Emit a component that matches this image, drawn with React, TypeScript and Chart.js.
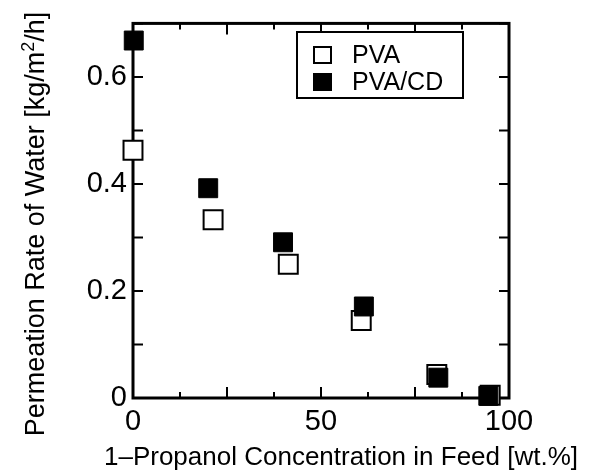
import React, { useEffect, useRef } from "react";
import { Chart, registerables } from "chart.js";

Chart.register(...registerables);

// ---- data ----
const seriesNames = ["PVA", "PVA/CD"];
const pvaX = [0, 21.3, 41.3, 60.7, 80.8, 95];
const pvaY = [0.463, 0.333, 0.25, 0.145, 0.044, 0.005];
const pvaCdX = [0.2, 20, 39.9, 61.4, 81.2, 94.5];
const pvaCdY = [0.668, 0.392, 0.291, 0.171, 0.038, 0.004];
const xTickLabels = [0, 50, 100];
const yTickLabels = [0, 0.2, 0.4, 0.6];
const xTitle = "1\u2013Propanol Concentration in Feed [wt.%]";
const yTitleParts = ["Permeation Rate of Water [kg/m", "2", "/h]"];

const FONT = "'Liberation Sans', Arial, Helvetica, sans-serif";

const framePlugin = {
  id: "frame",
  beforeDatasetsDraw(chart: any) {
    const { ctx, chartArea } = chart;
    const { left, right, top, bottom } = chartArea;
    ctx.save();
    ctx.strokeStyle = "#000";
    ctx.lineWidth = 2;
    const xs = chart.scales.x;
    xs.ticks.forEach((t: any) => {
      const px = xs.getPixelForValue(t.value);
      const major = Math.abs(t.value % 25) < 1e-6;
      const len = major ? 11 : 6;
      ctx.beginPath();
      ctx.moveTo(px, bottom);
      ctx.lineTo(px, bottom - len);
      ctx.moveTo(px, top);
      ctx.lineTo(px, top + len);
      ctx.stroke();
    });
    const ys = chart.scales.y;
    ys.ticks.forEach((t: any) => {
      const py = ys.getPixelForValue(t.value);
      const len = 10;
      ctx.beginPath();
      ctx.moveTo(left, py);
      ctx.lineTo(left + len, py);
      ctx.moveTo(right, py);
      ctx.lineTo(right - len, py);
      ctx.stroke();
    });
    ctx.lineWidth = 3;
    ctx.strokeRect(left, top, right - left, bottom - top);
    ctx.restore();
  },
};

const titlePlugin = {
  id: "titles",
  afterDraw(chart: any) {
    const { ctx } = chart;
    ctx.save();
    ctx.fillStyle = "#000";
    ctx.font = `26px ${FONT}`;
    ctx.textAlign = "center";
    ctx.textBaseline = "alphabetic";
    ctx.fillText(xTitle, 341, 465);

    // y title, rotated, with superscript
    ctx.translate(44, 224);
    ctx.rotate(-Math.PI / 2);
    ctx.textAlign = "left";
    const mainFont = `27px ${FONT}`;
    const supFont = `18px ${FONT}`;
    ctx.font = mainFont;
    const w0 = ctx.measureText(yTitleParts[0]).width;
    const w2 = ctx.measureText(yTitleParts[2]).width;
    ctx.font = supFont;
    const w1 = ctx.measureText(yTitleParts[1]).width;
    const total = w0 + w1 + w2;
    let x = -total / 2;
    ctx.font = mainFont;
    ctx.fillText(yTitleParts[0], x, 0);
    x += w0;
    ctx.font = supFont;
    ctx.fillText(yTitleParts[1], x, -10);
    x += w1;
    ctx.font = mainFont;
    ctx.fillText(yTitleParts[2], x, 0);
    ctx.restore();
  },
};

const legendPlugin = {
  id: "boxLegend",
  afterDatasetsDraw(chart: any) {
    const { ctx } = chart;
    const datasets = chart.data.datasets;
    ctx.save();
    ctx.fillStyle = "#fff";
    ctx.fillRect(297, 32, 166, 66);
    ctx.strokeStyle = "#000";
    ctx.lineWidth = 2;
    ctx.strokeRect(297, 32, 166, 66);
    ctx.font = `25px ${FONT}`;
    ctx.textBaseline = "middle";
    ctx.textAlign = "left";
    datasets.forEach((ds: any, i: number) => {
      const cy = 55 + i * 27;
      ctx.fillStyle = ds.pointBackgroundColor;
      ctx.fillRect(314, cy - 8, 17, 16);
      ctx.strokeStyle = "#000";
      ctx.lineWidth = 2;
      ctx.strokeRect(314, cy - 8, 17, 16);
      ctx.fillStyle = "#000";
      ctx.fillText(ds.label, 352, cy + 1);
    });
    ctx.restore();
  },
};

export default function App() {
  const ref = useRef<HTMLCanvasElement>(null);

  useEffect(() => {
    const canvas = ref.current;
    if (!canvas) return;
    const tickFont = { family: FONT, size: 29 };
    const chart = new Chart(canvas, {
      type: "scatter",
      data: {
        datasets: [
          {
            label: seriesNames[0],
            data: pvaX.map((x, i) => ({ x, y: pvaY[i] })),
            pointStyle: "rect",
            pointRadius: 13.4,
            pointHoverRadius: 13.4,
            pointBackgroundColor: "#fff",
            pointBorderColor: "#000",
            pointBorderWidth: 2,
            order: 1,
            clip: false,
          } as any,
          {
            label: seriesNames[1],
            data: pvaCdX.map((x, i) => ({ x, y: pvaCdY[i] })),
            pointStyle: "rect",
            pointRadius: 13.4,
            pointHoverRadius: 13.4,
            pointBackgroundColor: "#000",
            pointBorderColor: "#000",
            pointBorderWidth: 1,
            order: 0,
            clip: false,
          } as any,
        ],
      },
      options: {
        responsive: false,
        animation: false,
        devicePixelRatio: 1,
        events: [],
        layout: { padding: { top: 17, right: 83, left: 0, bottom: 0 } },
        plugins: {
          legend: { display: false },
          tooltip: { enabled: false },
        },
        scales: {
          x: {
            type: "linear",
            min: 0,
            max: 100,
            grid: { display: false, drawTicks: false },
            border: { display: false },
            ticks: {
              stepSize: 12.5,
              autoSkip: false,
              maxRotation: 0,
              padding: 7,
              color: "#000",
              font: tickFont,
              callback: (v: any) =>
                xTickLabels.some((t) => Math.abs(t - Number(v)) < 1e-6) ? String(Math.round(Number(v))) : "",
            },
            afterFit: (s: any) => {
              s.height = 77;
            },
          },
          y: {
            type: "linear",
            min: 0,
            max: 0.7,
            grid: { display: false, drawTicks: false },
            border: { display: false },
            ticks: {
              stepSize: 0.1,
              autoSkip: false,
              padding: 6,
              color: "#000",
              font: tickFont,
              callback: (v: any) => {
                const r = Math.round(Number(v) * 10) / 10;
                if (!yTickLabels.some((t) => Math.abs(t - r) < 1e-9)) return "";
                return r === 0 ? "0" : r.toFixed(1);
              },
            },
            afterFit: (s: any) => {
              s.width = 133;
            },
          },
        },
      } as any,
      plugins: [framePlugin, legendPlugin, titlePlugin],
    });
    return () => chart.destroy();
  }, []);

  return (
    <div style={{ position: "fixed", left: 0, top: 0, width: 592, height: 475, background: "#fff" }}>
      <canvas ref={ref} width={592} height={475} style={{ display: "block", width: 592, height: 475 }} />
    </div>
  );
}
